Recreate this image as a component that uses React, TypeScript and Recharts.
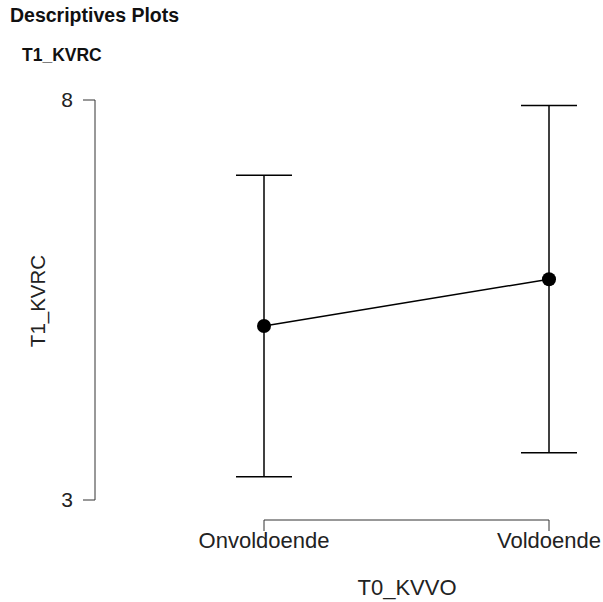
import { LineChart, Line, XAxis, YAxis, ErrorBar, ReferenceLine } from 'recharts';

// group levels of T0_KVVO
const categories = ['Onvoldoende', 'Voldoende'];
// T1_KVRC means and 95% CI bounds
const means = [5.175, 5.76];
const ciLower = [3.29, 3.59];
const ciUpper = [7.06, 7.93];
const yTicks = [3, 8];

const data = categories.map((c, i) => ({
  group: c,
  mean: means[i],
  ci: [means[i] - ciLower[i], ciUpper[i] - means[i]],
}));

const FONT = '"Liberation Sans", Arial, sans-serif';
const AXIS = '#333';

const XTick = ({ x, y, payload }: any) => (
  <g>
    <line x1={x} x2={x} y1={y + 20} y2={y + 31} stroke={AXIS} strokeWidth={1} />
    <text x={x} y={y + 48} textAnchor="middle" fill="#222" fontSize={22} fontFamily={FONT}>
      {payload.value}
    </text>
  </g>
);

export default function App() {
  return (
    <div style={{ position: 'absolute', left: 0, top: 0, width: 603, height: 602, background: '#fff', fontFamily: FONT }}>
      <div style={{ position: 'absolute', left: 10, top: 4, fontSize: 19.5, fontWeight: 'bold', color: '#111' }}>
        Descriptives Plots
      </div>
      <div style={{ position: 'absolute', left: 22, top: 45, fontSize: 17.5, fontWeight: 'bold', color: '#111' }}>
        T1_KVRC
      </div>
      <div
        style={{
          position: 'absolute',
          left: 38,
          top: 301,
          transform: 'translate(-50%, -50%) rotate(-90deg)',
          fontSize: 20.5,
          color: '#222',
          whiteSpace: 'nowrap',
        }}
      >
        T1_KVRC
      </div>
      <div
        style={{
          position: 'absolute',
          left: 407,
          top: 575,
          transform: 'translateX(-50%)',
          fontSize: 22,
          color: '#222',
          whiteSpace: 'nowrap',
        }}
      >
        T0_KVVO
      </div>
      <div style={{ position: 'absolute', left: 0, top: 0 }}>
        <LineChart width={603} height={602} data={data} margin={{ top: 100, right: 20, bottom: 42, left: 35 }}>
          <XAxis
            dataKey="group"
            height={60}
            padding={{ left: 169, right: 34 }}
            axisLine={false}
            tickLine={false}
            tickSize={0}
            tickMargin={0}
            tick={<XTick />}
            interval={0}
          />
          <YAxis
            domain={[3, 8]}
            ticks={yTicks}
            width={60}
            stroke={AXIS}
            tickSize={12}
            tickMargin={10}
            tick={{ fontSize: 21, fill: '#222', fontFamily: FONT }}
          />
          <ReferenceLine
            segment={[
              { x: categories[0], y: 2.75 },
              { x: categories[1], y: 2.75 },
            ]}
            stroke={AXIS}
            strokeWidth={1}
            ifOverflow="visible"
          />
          <Line
            dataKey="mean"
            stroke="#000"
            strokeWidth={1.5}
            dot={{ r: 7, fill: '#000', stroke: '#000', strokeWidth: 0 }}
            isAnimationActive={false}
          >
            <ErrorBar dataKey="ci" width={28} stroke="#000" strokeWidth={1.5} isAnimationActive={false} />
          </Line>
        </LineChart>
      </div>
    </div>
  );
}
